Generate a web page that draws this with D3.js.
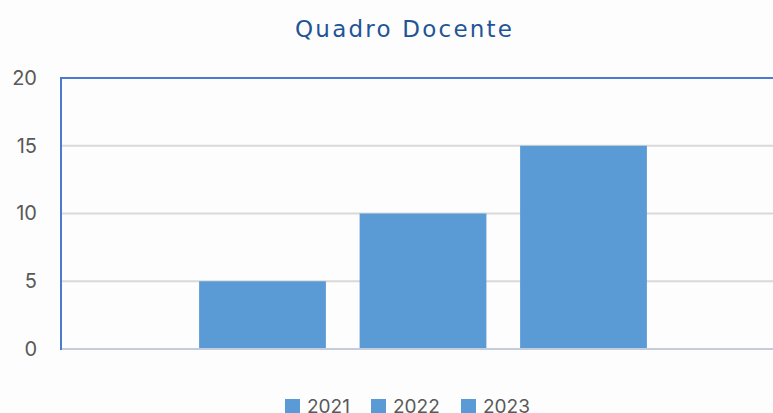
<!DOCTYPE html>
<html>
<head>
<meta charset="utf-8">
<script src="https://cdn.jsdelivr.net/npm/d3@7"></script>
<style>
  html, body { margin: 0; padding: 0; background: #fdfdfd; overflow: hidden; }
  svg { display: block; font-family: Inter, "Noto Sans", sans-serif; }
</style>
</head>
<body>
<svg id="chart" width="773" height="413"></svg>
<script>
// chart data
const categories = ['2021', '2022', '2023'];
const values = [5, 10, 15];
const yTicks = [0, 5, 10, 15, 20];
const title = 'Quadro Docente';

const svg = d3.select('#chart');
const barColor = '#5b9bd5';
const textColor = '#595959';

const plot = { left: 61, right: 773, top: 78, bottom: 349 };

const y = d3.scaleLinear().domain([0, 20]).range([plot.bottom, plot.top]);
const x = d3.scaleBand()
  .domain(categories)
  .range([182.25, 663.75])
  .paddingInner(0.21)
  .paddingOuter(0.105);

svg.append('text')
  .attr('x', 295).attr('y', 37)
  .attr('fill', '#1f5597')
  .attr('font-size', 23)
  .attr('font-family', '"DejaVu Sans", sans-serif')
  .attr('textLength', 217)
  .attr('lengthAdjust', 'spacing')
  .text(title);

// gridlines
svg.append('g')
  .selectAll('line')
  .data(yTicks.filter(d => d > 0 && d < 20))
  .enter().append('line')
  .attr('x1', plot.left).attr('x2', plot.right)
  .attr('y1', d => y(d)).attr('y2', d => y(d))
  .attr('stroke', '#d9d9d9').attr('stroke-width', 2);

// y axis labels
const yAxis = d3.axisLeft(y).tickValues(yTicks).tickSize(0).tickPadding(0);
const ya = svg.append('g').attr('transform', 'translate(37,0)').call(yAxis);
ya.select('.domain').remove();
ya.selectAll('text')
  .attr('fill', textColor)
  .attr('font-size', 20)
  .attr('font-family', 'Inter, "Noto Sans", sans-serif');

// bars
svg.append('g')
  .selectAll('rect')
  .data(values)
  .enter().append('rect')
  .attr('x', (d, i) => x(categories[i]))
  .attr('y', d => y(d))
  .attr('width', x.bandwidth())
  .attr('height', d => y(0) - y(d))
  .attr('fill', barColor);

// frame
svg.append('line')
  .attr('x1', plot.left).attr('x2', plot.right)
  .attr('y1', y(0)).attr('y2', y(0))
  .attr('stroke', '#c3cddd').attr('stroke-width', 2);
svg.append('line')
  .attr('x1', plot.left).attr('x2', plot.right)
  .attr('y1', y(20)).attr('y2', y(20))
  .attr('stroke', '#4a7bd0').attr('stroke-width', 2);
svg.append('line')
  .attr('x1', plot.left).attr('x2', plot.left)
  .attr('y1', y(20) - 1).attr('y2', y(0) + 1)
  .attr('stroke', '#4a7bd0').attr('stroke-width', 2);

// legend
const legendX = [285, 371, 461];
const legend = svg.append('g')
  .selectAll('g')
  .data(categories)
  .enter().append('g')
  .attr('transform', (d, i) => `translate(${legendX[i]},399)`);
legend.append('rect')
  .attr('width', 15).attr('height', 15)
  .attr('fill', barColor);
legend.append('text')
  .attr('x', 22).attr('y', 14)
  .attr('fill', textColor)
  .attr('font-size', 19)
  .text(d => d);
</script>
</body>
</html>
